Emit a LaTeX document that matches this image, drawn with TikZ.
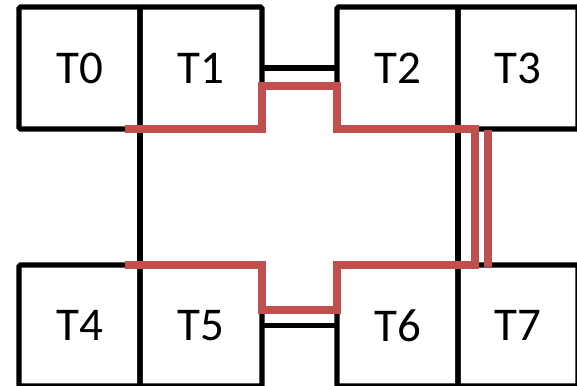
\documentclass[tikz,border=0pt]{standalone}
\usepackage{fontspec}
\setmainfont{Carlito}
\begin{document}
\begin{tikzpicture}[x=1pt,y=-1pt,
  tile/.style={draw=black,line width=5.2pt,rectangle,inner sep=0pt,outer sep=0pt,
    rounded corners=1.5pt,font=\fontsize{47}{50}\selectfont},
  wire/.style={draw=black,line width=5.2pt},
  route/.style={draw=redpath,line width=8pt,line join=miter},
  routeshadow/.style={draw=black,opacity=0.18,line width=8pt,line join=miter}]
\definecolor{redpath}{HTML}{C0504D}
\useasboundingbox (0,0) rectangle (577,385);
% tiles
\node[tile,minimum width=121pt,minimum height=122pt] (T0) at (79.5,68) {T0};
\node[tile,minimum width=122pt,minimum height=122pt] (T1) at (201,68) {T1};
\node[tile,minimum width=121pt,minimum height=122pt] (T2) at (397.5,68) {T2};
\node[tile,minimum width=120pt,minimum height=122pt] (T3) at (518,68) {T3};
\node[tile,minimum width=121pt,minimum height=121pt] (T4) at (79.5,325.5) {T4};
\node[tile,minimum width=122pt,minimum height=121pt] (T5) at (201,325.5) {T5};
\node[tile,minimum width=121pt,minimum height=121pt] (T6) at (397.5,325.5) {T6};
\node[tile,minimum width=120pt,minimum height=121pt] (T7) at (518,325.5) {T7};
% black links
\draw[wire] (T1.east) -- (T2.west);
\draw[wire] (T5.east) -- (T6.west);
\draw[wire] (T0.south east) -- (T4.north east);
\draw[wire] (T2.south east) -- (T6.north east);
% red route coordinates
\coordinate (r0) at (125,129);
\coordinate (r1) at (262,129);
\coordinate (r2) at (262,86);
\coordinate (r3) at (337,86);
\coordinate (r4) at (337,129);
\coordinate (r5) at (474.5,129);
\coordinate (r6) at (474.5,265);
\coordinate (r7) at (337,265);
\coordinate (r8) at (337,310);
\coordinate (r9) at (262,310);
\coordinate (r10) at (262,265);
\coordinate (r11) at (125,265);
\coordinate (s0) at (488,129.5);
\coordinate (s1) at (488,267);
% shadows
\begin{scope}[shift={(2,3)}]
\draw[routeshadow] (r0) -- (r1) -- (r2) -- (r3) -- (r4) -- (r5) -- (r6) -- (r7) -- (r8) -- (r9) -- (r10) -- (r11);
\draw[routeshadow] (s0) -- (s1);
\end{scope}
% red route
\draw[route] (r0) -- (r1) -- (r2) -- (r3) -- (r4) -- (r5) -- (r6) -- (r7) -- (r8) -- (r9) -- (r10) -- (r11);
\draw[route] (s0) -- (s1);
\end{tikzpicture}
\end{document}
